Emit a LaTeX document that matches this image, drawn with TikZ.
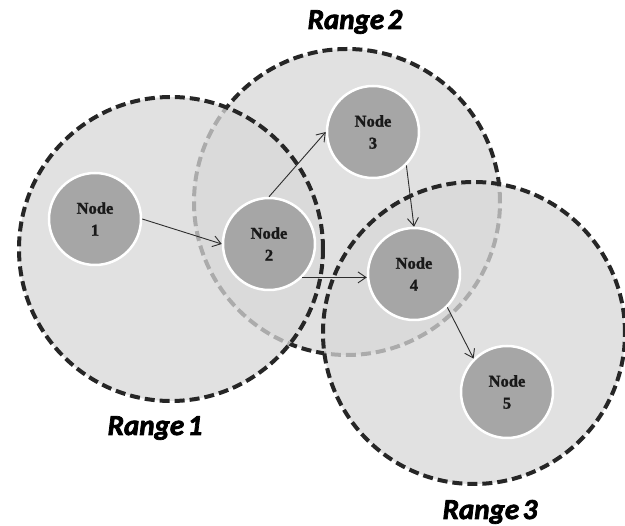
\documentclass[tikz,border=0pt]{standalone}
\usepackage{fontspec}
\setmainfont{Liberation Serif}[BoldFeatures={FakeBold=1.5}]
\newfontfamily\rangefont{Carlito}[BoldItalicFeatures={FakeBold=2.5}]
\usetikzlibrary{arrows.meta}

\definecolor{rangefill}{RGB}{216,216,216}
\definecolor{rangeline}{RGB}{38,38,38}
\definecolor{nodefill}{RGB}{166,166,166}
\definecolor{linkcol}{RGB}{45,45,45}

\tikzset{
  coverage/.style={fill=rangefill, fill opacity=0.75, draw=rangeline, draw opacity=1,
    line width=4pt, dash pattern=on 10pt off 5pt},
  sensor/.style={circle, fill=nodefill, draw=white, line width=2.5pt,
    minimum size=92pt, inner sep=0pt, align=center, text=black!90,
    font=\fontsize{16.5}{22}\selectfont\bfseries},
  link/.style={draw=linkcol, line width=0.9pt,
    -{Straight Barb[length=8pt,width=11pt,line width=0.9pt]}},
  rangelabel/.style={anchor=base, font=\rangefont\fontsize{29}{30}\selectfont\bfseries\itshape}
}

\begin{document}
\begin{tikzpicture}[x=1pt, y=-1pt]
  \useasboundingbox (0,0) rectangle (625,526);
  \fill[white] (0,0) rectangle (625,526);

  % coverage ranges: range 2 lies underneath ranges 1 and 3
  \draw[coverage] (347,202) circle[radius=153pt];
  \draw[coverage] (171,249) circle[radius=152pt];
  \draw[coverage] (474,333) circle[radius=151pt];

  % sensor nodes
  \node[sensor] (n1) at (95,219) {Node\\1};
  \node[sensor] (n2) at (269,244) {Node\\2};
  \node[sensor] (n3) at (373,132) {Node\\3};
  \node[sensor] (n4) at (414,274) {Node\\4};
  \node[sensor] (n5) at (507,392) {Node\\5};

  % forwarding links
  \draw[link] (n1.east) -- (n2.west);
  \draw[link] (n2.north) -- (n3.west);
  \draw[link] (n3.south east) -- (n4.north);
  \draw[link] (n2.south east) -- (n2.south east -| n4.west);
  \draw[link] (n4.south east) -- (n5.north west);

  % range captions
  \node[rangelabel] (l1) at (155,435) {Range\hspace{0.12em}1};
  \node[rangelabel] (l2) at (355,29) {Range\hspace{0.12em}2};
  \node[rangelabel] (l3) at (490,519) {Range\hspace{0.12em}3};
\end{tikzpicture}
\end{document}
